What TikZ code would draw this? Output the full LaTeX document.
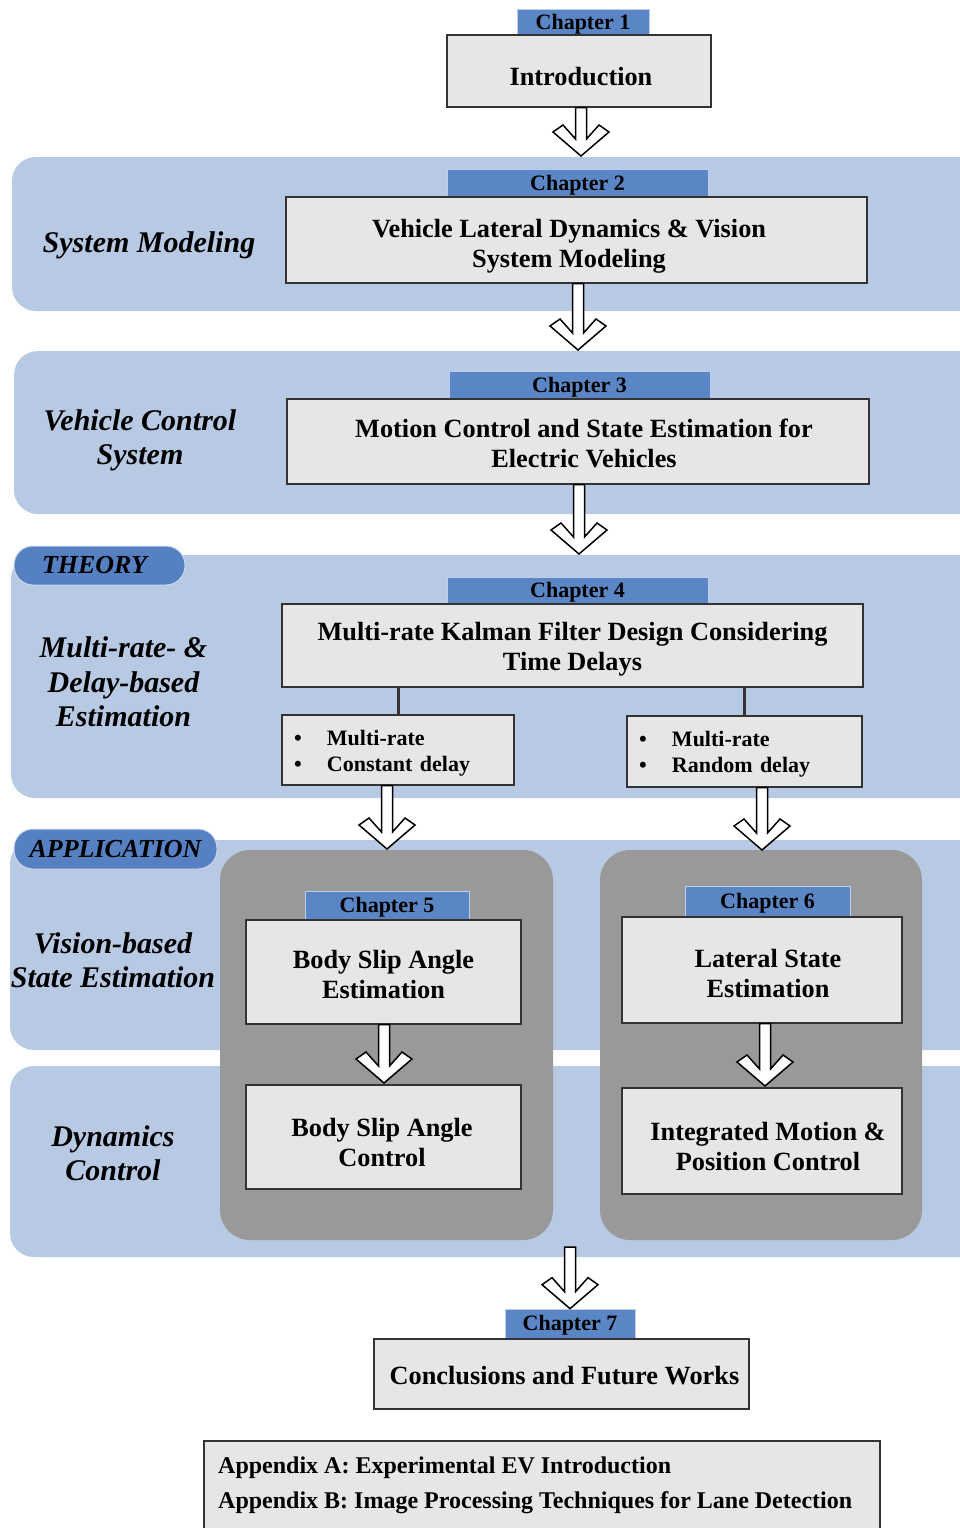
\documentclass[tikz,border=0pt]{standalone}
\usepackage{fontspec}
\setmainfont{Liberation Serif}
\usetikzlibrary{calc}

\definecolor{bandblue}{HTML}{B8C9E3}
\definecolor{tabblue}{HTML}{5B86C5}
\definecolor{pillblue}{HTML}{5580C2}
\definecolor{panelgray}{HTML}{999999}
\definecolor{boxgray}{HTML}{E6E6E6}
\definecolor{edgegray}{HTML}{333333}

% hollow down arrow with a chevron head: #1 start point, #2 tip point
\newcommand\hollowdown[2]{%
  \draw[hollowarrow] let \p1=#1, \p2=#2 in
    ({\x2-5.5pt},{\y1}) -- ({\x2-5.5pt},{\y2+17pt}) -- ({\x2-18pt},{\y2+31pt})
    -- ({\x2-28pt},{\y2+24pt}) -- (\x2,\y2) -- ({\x2+28pt},{\y2+24pt})
    -- ({\x2+18pt},{\y2+31pt}) -- ({\x2+5.5pt},{\y2+17pt}) -- ({\x2+5.5pt},{\y1}) -- cycle;}

% centred block of lines, moved sideways (#1, twice the offset) and down (#2)
% while the node keeps the natural size of the block
\newcommand\boxtext[3]{\hspace*{#1}\raisebox{-#2}[\height][\depth]{\begin{tabular}{@{}c@{}}#3\end{tabular}}}
% one line lowered by #1 inside its node
\newcommand\lowered[2]{\raisebox{-#1}[\height][\depth]{#2}}

\begin{document}
\begin{tikzpicture}[x=1pt,y=-1pt,
  band/.style={fill=bandblue, draw=none, rounded corners=24pt},
  panel/.style={fill=panelgray, draw=none, rounded corners=30pt},
  box/.style={draw=edgegray, line width=1.1pt, fill=boxgray, inner sep=0pt,
    align=center, font=\fontsize{26.3}{30}\selectfont\bfseries},
  subbox/.style={draw=edgegray, line width=1.1pt, fill=boxgray, inner xsep=12pt,
    inner ysep=0pt, align=left, font=\fontsize{22}{26}\selectfont\bfseries},
  tab/.style={draw=white!60!tabblue, line width=0.7pt, fill=tabblue, inner sep=0pt,
    font=\fontsize{22}{24}\selectfont\bfseries},
  pill/.style={draw=white!70!pillblue, line width=1pt, fill=pillblue,
    rounded corners=19pt, inner sep=0pt, font=\fontsize{26}{28}\selectfont\bfseries\itshape},
  section/.style={align=center, inner sep=0pt, font=\fontsize{30}{34.5}\selectfont\bfseries\itshape},
  link/.style={draw=edgegray, line width=3pt},
  hollowarrow/.style={draw=black, line width=1.5pt, fill=white, line join=miter},
  apptext/.style={align=left, inner sep=0pt, font=\fontsize{24}{35}\selectfont\bfseries}
]
\clip (0,0) rectangle (960,1528);
\fill[white] (0,0) rectangle (960,1528);

% background bands
\path[band] (12,157) rectangle (1000,311);
\path[band] (14,351) rectangle (1000,514);
\path[band] (11,555) rectangle (1000,798);
\path[band] (10,840) rectangle (1000,1050);
\path[band] (10,1066) rectangle (1000,1257);

% grey panels of the application part
\path[panel] (220,850) rectangle (553,1240);
\path[panel] (600,850) rectangle (922,1240);

% group labels
\node[pill, minimum width=171pt, minimum height=39pt] (theory) at (99.5,565.5) {THEORY\kern10pt};
\node[pill, minimum width=203pt, minimum height=40pt] (application) at (115.5,849) {APPLICATION};

\node[section] (secmodel) at (149,245) {System Modeling};
\node[section] (secctrl) at (140,440.5) {Vehicle Control\\System};
\node[section] (secest) at (123.5,682) {Multi-rate- \&\\Delay-based\\Estimation};
\node[section] (secvision) at (113,960) {Vision-based\\State Estimation};
\node[section] (secdyn) at (113,1153) {Dynamics\\Control};

% chapter 1
\node[tab, minimum width=132pt, minimum height=26pt] (tab1) at (583,22) {\lowered{2pt}{Chapter 1}};
\node[box, minimum width=264pt, minimum height=72pt] (intro) at (579,71)
  {\boxtext{4pt}{8pt}{Introduction}};

% chapter 2
\node[tab, minimum width=261pt, minimum height=28pt] (tab2) at (577.5,183) {\lowered{2pt}{Chapter 2}};
\node[box, minimum width=581pt, minimum height=86pt] (ch2) at (576.5,240)
  {\boxtext{-15pt}{6pt}{Vehicle Lateral Dynamics \& Vision\\System Modeling}};

% chapter 3
\node[tab, minimum width=261pt, minimum height=28pt] (tab3) at (579.5,385) {\lowered{2pt}{Chapter 3}};
\node[box, minimum width=582pt, minimum height=85pt] (ch3) at (578,441.5)
  {\boxtext{12pt}{5pt}{Motion Control and State Estimation for\\Electric Vehicles}};

% chapter 4
\node[tab, minimum width=261pt, minimum height=27pt] (tab4) at (577.5,590.5) {\lowered{2pt}{Chapter 4}};
\node[box, minimum width=581pt, minimum height=83pt] (ch4) at (572.5,645.5)
  {\boxtext{0pt}{4pt}{Multi-rate Kalman Filter Design Considering\\Time Delays}};

\node[subbox, text width=208pt, minimum height=70pt] (sub1) at (398,750)
  {\lowered{3pt}{\begin{tabular}{@{}l@{}}\makebox[33pt][l]{\textbullet}Multi-rate\\\makebox[33pt][l]{\textbullet}Constant delay\end{tabular}}};
\node[subbox, text width=211pt, minimum height=71pt] (sub2) at (744.5,751.5)
  {\lowered{3pt}{\begin{tabular}{@{}l@{}}\makebox[33pt][l]{\textbullet}Multi-rate\\\makebox[33pt][l]{\textbullet}Random delay\end{tabular}}};

\draw[link] (sub1.north |- ch4.south) -- (sub1.north);
\draw[link] (sub2.north |- ch4.south) -- (sub2.north);

% chapter 5
\node[tab, minimum width=164pt, minimum height=29pt] (tab5) at (387,905.5) {\lowered{2pt}{Chapter 5}};
\node[box, minimum width=275pt, minimum height=104pt] (ch5) at (383.5,972)
  {\boxtext{0pt}{5pt}{Body Slip Angle\\Estimation}};
\node[box, minimum width=275pt, minimum height=104pt] (ctrl5) at (383.5,1137)
  {\boxtext{-3pt}{8pt}{Body Slip Angle\\Control}};

% chapter 6
\node[tab, minimum width=165pt, minimum height=31pt] (tab6) at (767.5,901.5) {\lowered{2pt}{Chapter 6}};
\node[box, minimum width=280pt, minimum height=106pt] (ch6) at (762,970)
  {\boxtext{12pt}{6pt}{Lateral State\\Estimation}};
\node[box, minimum width=280pt, minimum height=106pt] (ctrl6) at (762,1141)
  {\boxtext{12pt}{8pt}{Integrated Motion \&\\Position Control}};

% chapter 7
\node[tab, minimum width=130pt, minimum height=29pt] (tab7) at (570,1323.5) {\lowered{2pt}{Chapter 7}};
\node[box, minimum width=375pt, minimum height=70pt] (ch7) at (561.5,1374)
  {\boxtext{6pt}{4pt}{Conclusions and Future Works}};

% appendices
\node[box, minimum width=676pt, minimum height=104pt] (appx) at (542,1493) {};
\node[apptext, anchor=west] (appxtext) at (218,1485)
  {Appendix A: Experimental EV Introduction\\Appendix B: Image Processing Techniques for Lane Detection};

% flow arrows
\coordinate (t1) at (581,156);
\coordinate (t2) at (578,350);
\coordinate (t3) at (579,554);
\coordinate (t4) at (387,849);
\coordinate (t5) at (762,850);
\coordinate (t6) at (384,1083);
\coordinate (t7) at (765,1086);
\coordinate (s8) at (570,1247);

\hollowdown{(intro.south)}{(t1)}
\hollowdown{(ch2.south)}{(t2)}
\hollowdown{(ch3.south)}{(t3)}
\hollowdown{(sub1.south)}{(t4)}
\hollowdown{(sub2.south)}{(t5)}
\hollowdown{(ch5.south)}{(t6)}
\hollowdown{(ch6.south)}{(t7)}
\hollowdown{(s8)}{(tab7.north)}
\end{tikzpicture}
\end{document}
